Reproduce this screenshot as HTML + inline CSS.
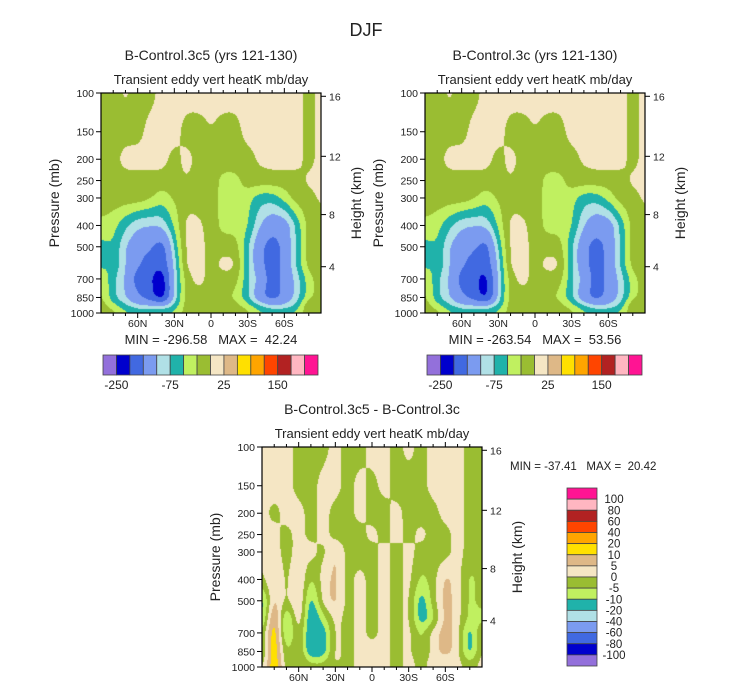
<!DOCTYPE html>
<html><head><meta charset="utf-8">
<style>
body{margin:0;background:#fff;}
#wrap{position:relative;width:733px;height:693px;overflow:hidden;font-family:"Liberation Sans",sans-serif;}
canvas{position:absolute;}
svg{position:absolute;left:0;top:0;}
text{white-space:pre;}
</style></head>
<body>
<div id="wrap">
<canvas id="c1" width="220" height="220" style="left:101px;top:93px"></canvas>
<canvas id="c2" width="220" height="220" style="left:425px;top:93px"></canvas>
<canvas id="c3" width="220" height="220" style="left:262px;top:447px"></canvas>
<svg id="ov" width="733" height="693"></svg>
</div>
<script>
// ---- data ----
const lats = [90,80,70,60,50,40,30,20,10,0,-10,-20,-30,-40,-50,-60,-70,-80,-90];
const plevs = [100,150,200,250,300,400,500,600,700,850,925,1000];
const ctl5 = [
[-10,-10,5,-10,-10,10,10,10,10,10,10,10,10,10,10,10,10,-10,10],
[-10,-10,-10,-10,10,10,10,-10,-10,0,-10,-10,10,10,10,10,10,-10,10],
[-10,-10,10,10,10,10,-10,10,-10,-10,-10,-10,-10,5,10,10,10,-10,10],
[-10,-10,-10,-10,-10,-10,-10,0,-10,-10,-35,-35,-10,-10,-10,-10,-10,5,10],
[-10,-10,-10,-10,-20,-40,-20,-10,-10,-10,-35,-35,-40,-65,-65,-40,-10,-10,5],
[-30,-40,-70,-95,-100,-95,-45,10,5,-10,-35,-35,-45,-100,-130,-125,-70,-10,-10],
[-60,-50,-100,-130,-140,-180,-70,10,10,-10,-10,-10,-70,-135,-180,-135,-70,-10,-10],
[-60,-50,-100,-140,-180,-190,-90,10,10,-10,10,5,-70,-135,-180,-135,-70,-10,-10],
[-20,-70,-100,-180,-190,-240,-90,-10,10,-10,-10,-10,-70,-110,-180,-135,-90,-35,-10],
[-15,-70,-100,-140,-180,-240,-90,-10,-10,-10,-10,-35,-70,-135,-180,-135,-90,-35,-10],
[-10,-40,-70,-95,-95,-95,-70,-10,-10,-10,-10,-10,-40,-70,-95,-95,-70,10,-10],
[-10,-10,-40,-45,-45,-45,-40,-10,-10,-10,-10,-10,-10,-40,-45,-45,-40,-10,-10]];
const ctl = [
[-10,-10,5,-10,-10,10,10,10,10,10,10,10,10,10,10,10,10,-10,10],
[-10,-10,-10,-10,10,10,10,-10,-10,0,-10,-10,10,10,10,10,10,-10,10],
[-10,-10,10,10,10,10,-10,10,-10,-10,-10,-10,-10,5,10,10,10,-10,10],
[-10,-10,-10,-10,-10,-10,-10,0,-10,-10,-35,-35,-10,-10,-10,-10,-10,5,10],
[-10,-10,-10,-10,-20,-40,-20,-10,-10,-10,-35,-35,-40,-65,-65,-40,-10,-10,5],
[-30,-40,-70,-95,-100,-95,-45,10,5,-10,-35,-35,-45,-100,-130,-125,-70,-10,-10],
[-60,-50,-100,-130,-140,-175,-70,10,10,-10,-10,-10,-70,-135,-175,-135,-70,-10,-10],
[-60,-50,-100,-140,-175,-185,-90,10,10,-10,10,5,-70,-135,-175,-135,-70,-10,-10],
[-20,-70,-100,-175,-185,-225,-90,-10,10,-10,-10,-10,-70,-110,-175,-135,-90,-35,-10],
[-15,-70,-100,-140,-175,-225,-90,-10,-10,-10,-10,-35,-70,-135,-175,-135,-90,-35,-10],
[-10,-40,-70,-95,-95,-95,-70,-10,-10,-10,-10,-10,-40,-70,-95,-95,-70,10,-10],
[-10,-10,-40,-45,-45,-45,-40,-10,-10,-10,-10,-10,-10,-40,-45,-45,-40,-10,-10]];
const diff = [
[2.5,2.5,2.5,-2.5,-2.5,-2.5,2.5,-2.5,-2.5,2.5,2.5,-2.5,2.5,-2.5,2.5,2.5,2.5,-2.5,-2.5],
[2.5,2.5,2.5,-2.5,-2.5,2.5,2.5,-2.5,2.5,-2.5,2.5,-2.5,-2.5,-2.5,2.5,2.5,2.5,-2.5,-2.5],
[2.5,-2.5,2.5,2.5,-2.5,2.5,-2.5,-2.5,2.5,-2.5,-2.5,2.5,-2.5,-2.5,-2.5,2.5,2.5,-2.5,-2.5],
[2.5,2.5,-2.5,2.5,-2.5,2.5,-2.5,-2.5,-2.5,2.5,-2.5,2.5,-2.5,2.5,-2.5,-2.5,2.5,-2.5,-2.5],
[2.5,2.5,-2.5,2.5,2.5,-2.5,7,-2.5,-2.5,-2.5,2.5,-2.5,2.5,-2.5,-2.5,-2.5,2.5,-2.5,-2.5],
[-2.5,7,-2.5,7,-7,2.5,7,-2.5,2.5,-2.5,2.5,-2.5,2.5,-7,-2.5,7,2.5,-7,-2.5],
[-15,8,-2.5,8,-15,2.5,7,-2.5,2.5,-2.5,2.5,-2.5,2.5,-15,-2.5,8,2.5,-7,-2.5],
[-15,16,-15,7,-18,-7,2.5,-2.5,2.5,-2.5,2.5,-2.5,2.5,-15,-7,8,2.5,-7,-7],
[-7,18,-15,2.5,-18,-15,2.5,-2.5,2.5,-2.5,2.5,-2.5,2.5,-7,2.5,8,2.5,-15,2.5],
[-7,18,-7,2.5,-18,-15,2.5,-2.5,2.5,2.5,2.5,-2.5,2.5,-7,2.5,8,2.5,-15,2.5],
[-7,18,-7,2.5,-7,-7,2.5,-2.5,2.5,2.5,2.5,-2.5,2.5,-2.5,2.5,2.5,2.5,-7,2.5],
[-2.5,18,-2.5,-2.5,-2.5,-2.5,-2.5,-2.5,2.5,2.5,2.5,-2.5,2.5,-2.5,2.5,2.5,2.5,-2.5,2.5]];
const levels1 = [-250,-200,-150,-100,-75,-50,-25,0,25,50,75,100,150,200,250];
const levels3 = [-100,-80,-60,-40,-20,-10,-5,0,5,10,20,40,60,80,100];
const cbLabels1 = ["-250","-75","25","150"];
const cbLabelIdx1 = [0,4,8,12];
const stats1 = ["-296.58","42.24"];
const stats2 = ["-263.54","53.56"];
const stats3 = ["-37.41","20.42"];
const latTicks = [60,30,0,-30,-60];
const latTickLabels = ["60N","30N","0","30S","60S"];
const pTicks = [100,150,200,250,300,400,500,700,850,1000];
const hTicks = ["4","8","12","16"];
const hTickP = [616,357,194,103.5];
const colors = ["#9370db","#0000cd","#4169e1","#7b9bf0","#b0e0e6","#20b2aa","#c0f060","#9abd32","#f5e6c4","#deb887","#ffe000","#ffa500","#ff4500","#b22222","#ffb6c1","#ff1493"];

// ---- scales ----
const W=220,H=220;
function xOf(lat){return (90-lat)/180*W;}
function yOf(p){return Math.log10(p/100)*H;}
function rgb(h){return [parseInt(h.substr(1,2),16),parseInt(h.substr(3,2),16),parseInt(h.substr(5,2),16)];}
const crgb = colors.map(rgb);
function colorIdx(v,lv){let i=0;while(i<lv.length&&v>=lv[i])i++;return i;}
function blur(f,rad){
  const t=new Float32Array(W*H),o=new Float32Array(W*H);
  for(let y=0;y<H;y++)for(let x=0;x<W;x++){let s=0,n=0;for(let d=-rad;d<=rad;d++){const xx=Math.max(0,Math.min(W-1,x+d));s+=f[y*W+xx];n++;}t[y*W+x]=s/n;}
  for(let y=0;y<H;y++)for(let x=0;x<W;x++){let s=0,n=0;for(let d=-rad;d<=rad;d++){const yy=Math.max(0,Math.min(H-1,y+d));s+=t[yy*W+x];n++;}o[y*W+x]=s/n;}
  return o;
}
function draw(id,grid,lv){
  const ctx=document.getElementById(id).getContext('2d');
  const img=ctx.createImageData(W,H);
  const lp=plevs.map(p=>Math.log10(p));
  let f=new Float32Array(W*H);
  for(let py=0;py<H;py++){
    const l=2+(py+0.5)/H;
    let r=0;while(r<lp.length-2&&l>lp[r+1])r++;
    let fr=(l-lp[r])/(lp[r+1]-lp[r]);fr=Math.max(0,Math.min(1,fr));
    for(let px=0;px<W;px++){
      const lat=90-(px+0.5)/W*180;
      let fc=(lats[0]-lat)/(lats[0]-lats[1]);
      let c=Math.min(lats.length-2,Math.floor(fc));let fx=fc-c;
      f[py*W+px]=(grid[r][c]*(1-fx)+grid[r][c+1]*fx)*(1-fr)+(grid[r+1][c]*(1-fx)+grid[r+1][c+1]*fx)*fr;
    }
  }
  f=blur(blur(f,4),4);
  for(let i=0;i<W*H;i++){
    const k=crgb[colorIdx(f[i],lv)];
    img.data[i*4]=k[0];img.data[i*4+1]=k[1];img.data[i*4+2]=k[2];img.data[i*4+3]=255;
  }
  ctx.putImageData(img,0,0);
}
draw('c1',ctl5,levels1);draw('c2',ctl,levels1);draw('c3',diff,levels3);

// ---- overlay ----
const NS="http://www.w3.org/2000/svg";
const ov=document.getElementById('ov');
function mk(tag,attrs,parent,text){const e=document.createElementNS(NS,tag);for(const k in attrs)e.setAttribute(k,attrs[k]);if(text!==undefined)e.textContent=text;(parent||ov).appendChild(e);return e;}
function txt(x,y,s,size,anchor,name,rot){
  const t=mk('text',{x:x,y:y,'font-size':size,'text-anchor':anchor||'middle',fill:'#222','font-family':'Liberation Sans, sans-serif'},ov,s);
  if(rot)t.setAttribute('transform','rotate(-90 '+x+' '+y+')');
  
  
  return t;
}
txt(366,36,"DJF",18,'middle','figure-title');
function panel(x0,y0,title,sub,name){
  const g=mk('g',{});
  
  
  mk('rect',{x:x0,y:y0,width:W,height:H,fill:'none',stroke:'#000','stroke-width':1.2},g);
  for(let lat=80;lat>=-80;lat-=10){
    const x=x0+xOf(lat);const major=latTicks.indexOf(lat)>=0;const L=major?5:3;
    mk('line',{x1:x,x2:x,y1:y0+H,y2:y0+H+L,stroke:'#000'},g);
    mk('line',{x1:x,x2:x,y1:y0,y2:y0-L,stroke:'#000'},g);
  }
  latTicks.forEach((lat,i)=>{txt(x0+xOf(lat),y0+H+14,latTickLabels[i],10.5,'middle','lat-tick-label');});
  pTicks.forEach(p=>{const y=y0+yOf(p);mk('line',{x1:x0-5,x2:x0,y1:y,y2:y,stroke:'#000'},g);txt(x0-7,y+4,String(p),10.5,'end','pressure-tick-label');});
  hTicks.forEach((h,i)=>{const y=y0+yOf(hTickP[i]);mk('line',{x1:x0+W,x2:x0+W+5,y1:y,y2:y,stroke:'#000'},g);txt(x0+W+8,y+4,h,10.5,'start','height-tick-label');});
  txt(x0-42,y0+110,"Pressure (mb)",14,'middle','y-axis-title',true);
  txt(x0+W+40,y0+110,"Height (km)",14,'middle','y2-axis-title',true);
  txt(x0+110,y0-33,title,14,'middle','panel-title');
  txt(x0+110,y0-9,sub,13,'middle','panel-subtitle');
}
panel(101,93,"B-Control.3c5 (yrs 121-130)","Transient eddy vert heatK mb/day",'panel-ctl5');
panel(425,93,"B-Control.3c (yrs 121-130)","Transient eddy vert heatK mb/day",'panel-ctl');
panel(262,447,"B-Control.3c5 - B-Control.3c","Transient eddy vert heatK mb/day",'panel-diff');
txt(211,344,"MIN = "+stats1[0]+"   MAX =  "+stats1[1],13,'middle','stats-ctl5');
txt(535,344,"MIN = "+stats2[0]+"   MAX =  "+stats2[1],13,'middle','stats-ctl');
txt(510,470,"MIN = "+stats3[0]+"   MAX =  "+stats3[1],11.5,'start','stats-diff');

function hbar(x0,name){
  const bw=215/16;
  colors.forEach((c,i)=>{const r=mk('rect',{x:x0+i*bw,y:355,width:bw,height:20,fill:c,stroke:'#444','stroke-width':0.8});
    
    });
  cbLabelIdx1.forEach((k,i)=>{txt(x0+(k+1)*bw,389,cbLabels1[i],12,'middle',name+'-label');});
}
hbar(103,'colorbar-ctl5');hbar(427,'colorbar-ctl');
(function(){
  const bh=178/16;const x0=567,y0=488;
  for(let i=0;i<16;i++){
    const r=mk('rect',{x:x0,y:y0+i*bh,width:30,height:bh,fill:colors[15-i],stroke:'#444','stroke-width':0.8});
    
    
  }
  for(let i=0;i<15;i++){
    txt(614,y0+(i+1)*bh+4,String(levels3[14-i]),11.5,'middle','colorbar-diff-label');
  }
})();
</script>
</body></html>
